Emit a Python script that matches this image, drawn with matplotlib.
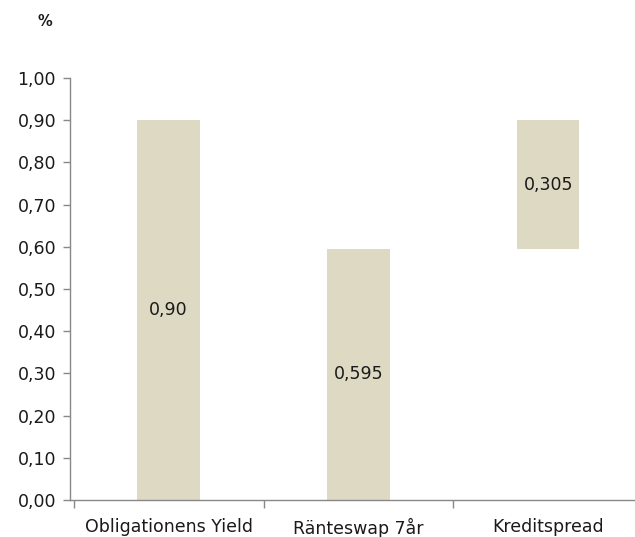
import matplotlib
matplotlib.use("Agg")
import matplotlib.pyplot as plt
from matplotlib.ticker import FixedLocator, FuncFormatter

categories = ["Obligationens Yield", "Ränteswap 7år", "Kreditspread"]
heights = [0.90, 0.595, 0.305]
bases = [0.0, 0.0, 0.595]
bar_labels = ["0,90", "0,595", "0,305"]
y_ticks = [0.0, 0.1, 0.2, 0.3, 0.4, 0.5, 0.6, 0.7, 0.8, 0.9, 1.0]

bar_color = "#DDD9C3"
axis_color = "#888888"
text_color = "#1a1a1a"

plt.rcParams["font.family"] = ["DejaVu Sans"]

fig = plt.figure(figsize=(6.35, 5.37), dpi=100)
ax = fig.add_axes([70 / 635, 37 / 537, 573 / 635, 422 / 537])

x = range(len(categories))
ax.bar(x, heights, bottom=bases, width=0.33, color=bar_color, edgecolor="none")

for i, (h, b, lab) in enumerate(zip(heights, bases, bar_labels)):
    ax.text(i, b + h / 2, lab, ha="center", va="center", fontsize=12.5, color=text_color)

ax.set_xlim(-0.52, 2.5)
ax.set_ylim(0, 1.0)
ax.yaxis.set_major_locator(FixedLocator(y_ticks))
ax.yaxis.set_major_formatter(FuncFormatter(lambda v, p: f"{v:.2f}".replace(".", ",")))

ax.set_xticks([-0.5, 0.5, 1.5])
ax.set_xticklabels([])
ax.set_xticks([0, 1, 2], minor=True)
ax.set_xticklabels(categories, minor=True, fontsize=12.5, color=text_color)
ax.tick_params(axis="x", which="minor", length=0, pad=13)
ax.tick_params(axis="x", which="major", length=6, width=1, color=axis_color, direction="out")
ax.tick_params(axis="y", length=5, width=1, color=axis_color, direction="out",
               labelsize=12.5, labelcolor=text_color, pad=5)

for side in ("top", "right"):
    ax.spines[side].set_visible(False)
for side in ("left", "bottom"):
    ax.spines[side].set_color(axis_color)
    ax.spines[side].set_linewidth(1)

fig.text(45 / 635, 1 - 22 / 537, "%", ha="center", va="center", fontsize=10.5,
         fontweight="bold", color=text_color)

fig.savefig("out.png", dpi=100)
